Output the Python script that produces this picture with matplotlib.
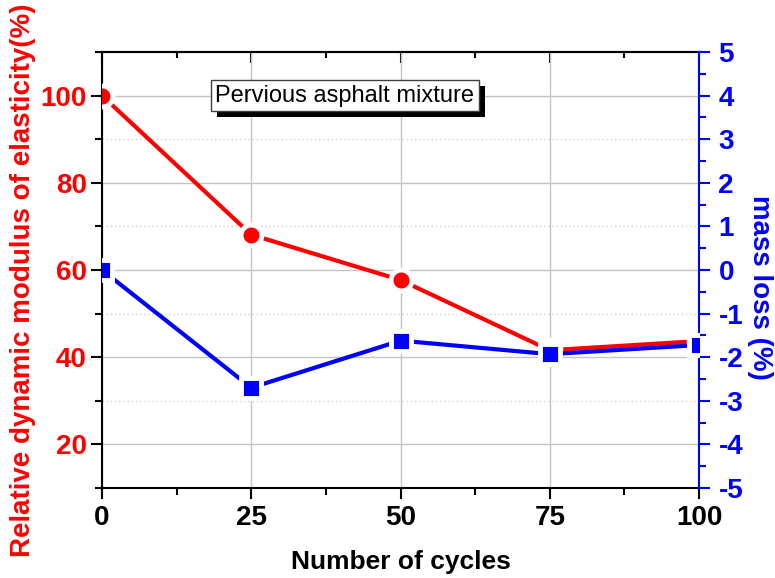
import numpy as np
import matplotlib
matplotlib.use('Agg')
from matplotlib import pyplot as plt
from matplotlib.ticker import MultipleLocator
import matplotlib.patheffects as pe

plt.rcParams['font.family'] = ['Liberation Sans', 'DejaVu Sans']
plt.rcParams['axes.unicode_minus'] = False

# freeze-thaw cycles vs. modulus retention and mass loss
cycles = [0, 25, 50, 75, 100]
modulus = [100, 68.1, 57.7, 41.6, 43.7]
mass_loss = [0, -2.70, -1.62, -1.93, -1.72]

fig = plt.figure(figsize=(7.75, 5.78), dpi=100)
ax = fig.add_axes([102/775, 1 - 488/578, 597/775, 436/578])
ax2 = ax.twinx()

# grid
ax.grid(which='major', axis='both', color='#c4c4c4', lw=1.0, ls='-')
ax.grid(which='minor', axis='y', color='#d0d0d0', lw=1.0, ls=(0, (1, 2)))
ax.set_axisbelow(True)

# white rim round the markers so the lines stop short of them
ax.plot(cycles, modulus, color='red', lw=3, marker='o', ms=15,
        mfc='red', mec='white', mew=3.5, zorder=3)
ax2.plot(cycles, mass_loss, color='blue', lw=3, marker='s', ms=15,
         mfc='blue', mec='white', mew=3.5, zorder=3)

ax.set_xlim(0, 100)
ax.set_ylim(10, 110)
ax2.set_ylim(-5, 5)

ax.xaxis.set_major_locator(MultipleLocator(25))
ax.xaxis.set_minor_locator(MultipleLocator(12.5))
ax.yaxis.set_major_locator(MultipleLocator(20))
ax.yaxis.set_minor_locator(MultipleLocator(10))
ax2.yaxis.set_major_locator(MultipleLocator(1))
ax2.yaxis.set_minor_locator(MultipleLocator(0.5))

ax.tick_params(axis='x', which='major', direction='out', length=8, width=1.5, pad=4)
ax.tick_params(axis='x', which='minor', direction='out', length=5, width=1.5)
ax.tick_params(axis='y', which='major', direction='out', length=8, width=1.5,
               colors='black', labelcolor='red', pad=3)
ax.tick_params(axis='y', which='minor', direction='out', length=5, width=1.5)
ax2.tick_params(axis='y', which='major', direction='out', length=8, width=1.5,
                colors='blue', pad=6)
ax2.tick_params(axis='y', which='minor', direction='out', length=5, width=1.5,
                colors='blue')
for lab in ax.get_xticklabels() + ax.get_yticklabels() + ax2.get_yticklabels():
    lab.set_fontsize(20)
    lab.set_fontweight('bold')

# inward ticks on the top edge
top = ax.secondary_xaxis('top')
top.xaxis.set_major_locator(MultipleLocator(25))
top.xaxis.set_minor_locator(MultipleLocator(12.5))
top.tick_params(which='major', direction='in', length=8, width=1.5, labeltop=False)
top.tick_params(which='minor', direction='in', length=4, width=1.5)
top.spines['top'].set_linewidth(1.5)

for s in ['left', 'bottom', 'top']:
    ax.spines[s].set_linewidth(1.5)
ax.spines['right'].set_visible(False)
for s in ['left', 'bottom', 'top']:
    ax2.spines[s].set_visible(False)
ax2.spines['right'].set_color('blue')
ax2.spines['right'].set_linewidth(1.5)

ax.set_xlabel('Number of cycles', fontsize=19, fontweight='bold', va='center')
ax.xaxis.set_label_coords(0.5, -0.17)

ax.set_ylabel('Relative dynamic modulus of elasticity(%)', fontsize=20,
              fontweight='bold', color='red', va='center', ha='center')
ax.yaxis.set_label_coords(-0.132, 0.477)

ax2.set_ylabel('mass loss (%)', fontsize=20, fontweight='bold', color='blue',
               rotation=-90, va='center', ha='center')
ax2.yaxis.set_label_coords(1.102, 0.459)

txt = ax.text(40.7, 100, 'Pervious asphalt mixture', fontsize=17, ha='center',
              va='center', zorder=6,
              bbox=dict(boxstyle='square,pad=0.2', fc='white', ec='#404040', lw=1))
txt.get_bbox_patch().set_path_effects([
    pe.SimplePatchShadow(offset=(4.3, -4.3), shadow_rgbFace='black', alpha=1.0),
    pe.Normal()])

fig.savefig('out.png', dpi=100)
